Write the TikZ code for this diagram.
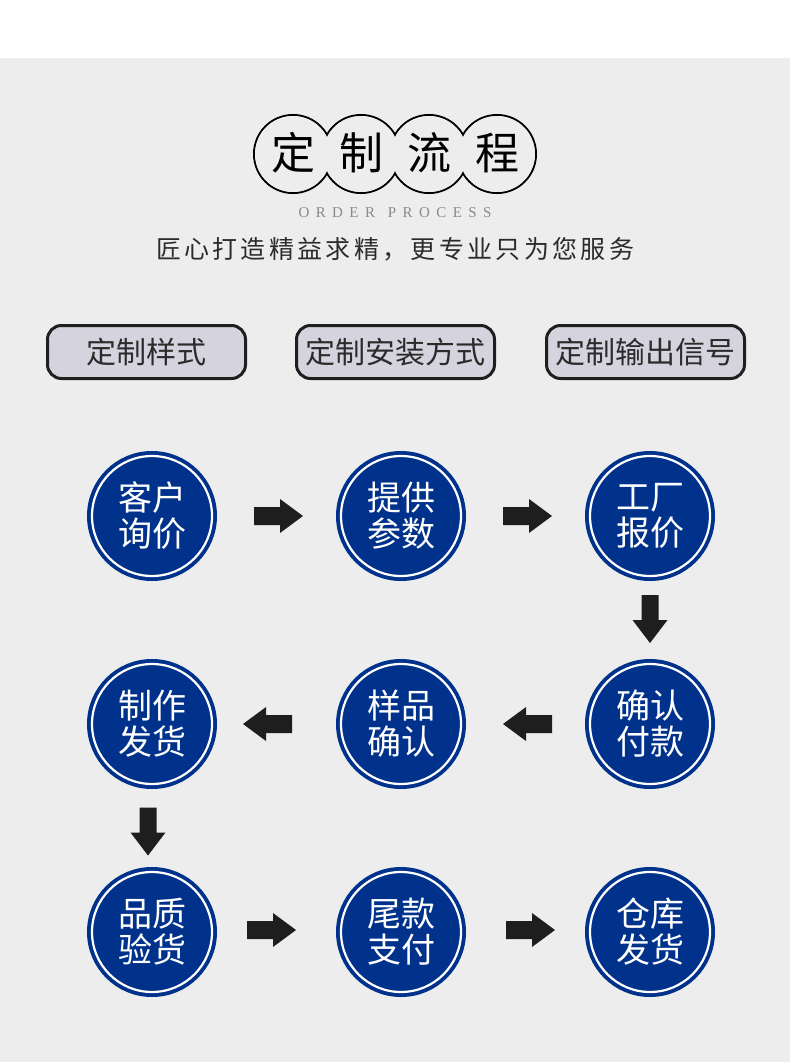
\documentclass[tikz,border=0pt]{standalone}
\usepackage{fontspec}
\newfontfamily\cjk{Noto Sans CJK SC}
\newfontfamily\serifen{Liberation Serif}
\definecolor{bgc}{HTML}{EDEDED}
\definecolor{cblue}{RGB}{0,50,140}
\definecolor{btnfill}{HTML}{D4D3DE}
\definecolor{arrc}{HTML}{1E1E1E}
\definecolor{txtdark}{HTML}{2B2B2B}
\definecolor{greytxt}{HTML}{8A8A8A}
\tikzset{
  titlech/.style={inner sep=0pt, text height=33.4pt, text depth=0pt, font=\cjk\fontsize{44}{44}\selectfont, text=black},
  btn/.style={draw=black!88, line width=3pt, fill=btnfill, rounded corners=14pt,
    minimum width=198pt, minimum height=53pt, inner sep=0pt, text=txtdark,
    text height=22.8pt, text depth=0pt, font=\cjk\fontsize{30}{30}\selectfont},
  stepcirc/.style={circle, fill=cblue, draw=white, line width=2.2pt, minimum size=120pt,
    inner sep=0pt, text=white, align=center, font=\cjk\fontsize{34}{36}\selectfont,
    preaction={draw=cblue, line width=10pt}},
  rarr/.pic={\fill[arrc] (-24.5,-9) -- (1.5,-9) -- (1.5,-17) -- (24.5,0) -- (1.5,17) -- (1.5,9) -- (-24.5,9) -- cycle;},
  larr/.pic={\fill[arrc] (24.5,-9) -- (-1.5,-9) -- (-1.5,-17) -- (-24.5,0) -- (-1.5,17) -- (-1.5,9) -- (24.5,9) -- cycle;},
  darr/.pic={\fill[arrc] (-8.5,-24) -- (-8.5,1) -- (-17.5,1) -- (0,24) -- (17.5,1) -- (8.5,1) -- (8.5,-24) -- cycle;},
}
\begin{document}
\begin{tikzpicture}[x=1pt,y=-1pt]
\useasboundingbox (0,0) rectangle (790,1062);
\fill[white] (0,0) rectangle (790,58);
\fill[bgc] (0,58) rectangle (790,1062);
% title
\foreach \x in {293,361,429,497} \draw[line width=2pt, black] (\x,154) circle[radius=39];
\foreach \x in {293,361,429,497} \fill[bgc] (\x,154) circle[radius=38];
\node[titlech] (t1) at (293,153) {定};
\node[titlech] (t2) at (361,153) {制};
\node[titlech] (t3) at (429,153) {流};
\node[titlech] (t4) at (497,153) {程};
\node[inner sep=0pt, text=greytxt, font=\serifen\fontsize{15}{15}\selectfont] (eng) at (395,213)
  {\makebox[193pt][s]{O\hfill R\hfill D\hfill E\hfill R\hfill\hfill P\hfill R\hfill O\hfill C\hfill E\hfill S\hfill S}};
\node[inner sep=0pt, text=txtdark, text height=19pt, text depth=0pt, font=\cjk\fontsize{25}{25}\selectfont] (sub) at (395,249)
  {\makebox[478pt][s]{匠\hfill 心\hfill 打\hfill 造\hfill 精\hfill 益\hfill 求\hfill 精\hfill ，\hfill 更\hfill 专\hfill 业\hfill 只\hfill 为\hfill 您\hfill 服\hfill 务}};
% buttons
\node[btn] (b1) at (146.5,352) {定制样式};
\node[btn] (b2) at (395.5,352) {定制安装方式};
\node[btn] (b3) at (645.5,352) {定制输出信号};
% circles
\node[stepcirc] (c1) at (152,516) {客户\\询价};
\node[stepcirc] (c2) at (401,516) {提供\\参数};
\node[stepcirc] (c3) at (650,516) {工厂\\报价};
\node[stepcirc] (c4) at (152,724) {制作\\发货};
\node[stepcirc] (c5) at (401,724) {样品\\确认};
\node[stepcirc] (c6) at (650,724) {确认\\付款};
\node[stepcirc] (c7) at (152,932) {品质\\验货};
\node[stepcirc] (c8) at (401,932) {尾款\\支付};
\node[stepcirc] (c9) at (650,932) {仓库\\发货};
% arrows
\pic at (278.5,516) {rarr};
\pic at (527.5,516) {rarr};
\pic at (650,619) {darr};
\pic at (527.5,724) {larr};
\pic at (267.5,724) {larr};
\pic at (148,831.5) {darr};
\pic at (271.5,930) {rarr};
\pic at (530.5,930) {rarr};
\end{tikzpicture}
\end{document}
